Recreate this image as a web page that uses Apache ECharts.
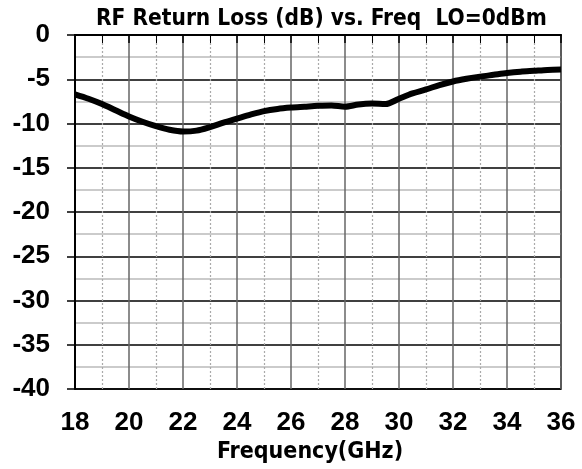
<!DOCTYPE html>
<html><head><meta charset="utf-8">
<script src="https://cdn.jsdelivr.net/npm/echarts@6/dist/echarts.min.js"></script>
<style>html,body{margin:0;padding:0;background:#fff}#c{width:582px;height:469px}</style>
</head><body><div id="c"></div>
<script>
const freqGHz = [18,18.5,19,19.5,20,20.5,21,21.5,22,22.5,23,23.5,24,24.5,25,25.5,26,26.5,27,27.5,28,28.5,29,29.5,30,30.5,31,31.5,32,32.5,33,33.5,34,34.5,35,35.5,36];
const returnLossDb = [-6.7,-7.2,-7.8,-8.5,-9.2,-9.8,-10.3,-10.7,-10.9,-10.8,-10.4,-9.9,-9.45,-9.0,-8.6,-8.35,-8.2,-8.1,-8.0,-7.95,-8.1,-7.85,-7.75,-7.8,-7.2,-6.6,-6.15,-5.65,-5.25,-4.95,-4.7,-4.5,-4.3,-4.15,-4.05,-3.95,-3.9];
const titleText = 'RF Return Loss (dB) vs. Freq  LO=0dBm';
const xName = 'Frequency(GHz)';

const chart = echarts.init(document.getElementById('c'), null, {renderer:'canvas'});
const tickFont = {fontFamily:'Liberation Sans', fontWeight:'bold', fontSize:26, color:'#000'};
const headFont = {fontFamily:'"DejaVu Sans Condensed", "DejaVu Sans"', fontWeight:'bold', color:'#000'};
chart.setOption({
  animation:false,
  backgroundColor:'#fff',
  title:{text:titleText, left:91, top:3, textStyle:{...headFont, fontSize:22.5}},
  grid:{left:75, right:21, top:35, bottom:79, show:true, borderColor:'#000', borderWidth:1.5},
  xAxis:{type:'value', min:18, max:36, interval:2,
    name:xName, nameLocation:'middle', nameGap:45,
    nameTextStyle:{...headFont, fontSize:23, padding:[0,16,0,0]},
    axisLine:{lineStyle:{color:'#000', width:2}},
    axisTick:{show:true, length:8, lineStyle:{color:'#000', width:1.5}},
    minorTick:{show:true, splitNumber:2, length:8, lineStyle:{color:'#000', width:1}},
    axisLabel:{margin:21, ...tickFont},
    splitLine:{show:true, lineStyle:{color:'#666', width:1.5}},
    minorSplitLine:{show:true, lineStyle:{color:'#aaa', width:1.2, type:[2,2]}}
  },
  yAxis:{type:'value', min:-40, max:0, interval:5,
    axisLine:{show:true, lineStyle:{color:'#000', width:2}},
    axisTick:{show:true, length:8, lineStyle:{color:'#000', width:1.5}},
    minorTick:{show:false, splitNumber:2},
    axisLabel:{margin:25, ...tickFont},
    splitLine:{show:true, lineStyle:{color:'#000', width:1.5}},
    minorSplitLine:{show:true, lineStyle:{color:'#bbb', width:1.5}}
  },
  series:[{type:'line', data:freqGHz.map((f,i)=>[f, returnLossDb[i]]), showSymbol:false, smooth:0.3,
    lineStyle:{color:'#000', width:6}}]
});
</script></body></html>
